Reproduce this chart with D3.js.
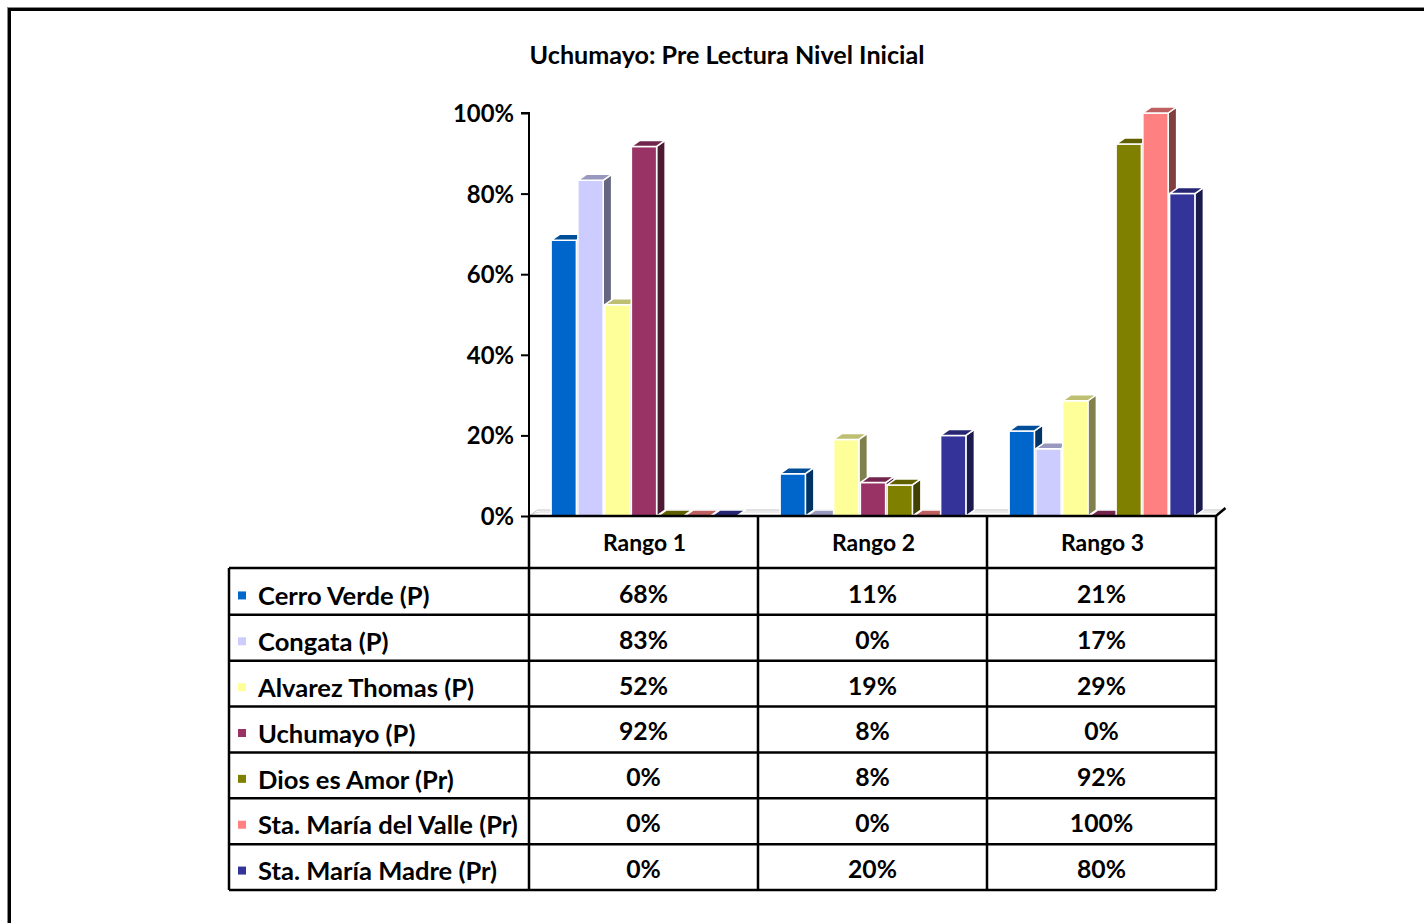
<!DOCTYPE html>
<html>
<head>
<meta charset="utf-8">
<script src="https://cdn.jsdelivr.net/npm/d3@7/dist/d3.min.js"></script>
<style>
  html, body { margin: 0; padding: 0; background: #fff; overflow: hidden; }
  svg { display: block; }
</style>
</head>
<body>
<svg id="chart" width="1424" height="923"></svg>
<script>
// ---------------- DATA ----------------
const chartTitle = "Uchumayo: Pre Lectura Nivel Inicial";
const categories = ["Rango 1", "Rango 2", "Rango 3"];
const seriesNames = [
  "Cerro Verde (P)",
  "Congata (P)",
  "Alvarez Thomas (P)",
  "Uchumayo (P)",
  "Dios es Amor (Pr)",
  "Sta. María del Valle (Pr)",
  "Sta. María Madre (Pr)"
];
const seriesColors = ["#0066CC", "#CCCCFF", "#FFFF99", "#993366", "#808000", "#FF8080", "#333399"];
const cerroVerde   = [0.684, 0.105, 0.211];
const congata      = [0.833, 0.000, 0.167];
const alvarez      = [0.524, 0.190, 0.286];
const uchumayo     = [0.917, 0.083, 0.000];
const diosEsAmor   = [0.000, 0.077, 0.923];
const staMariaValle = [0.000, 0.000, 1.000];
const staMariaMadre = [0.000, 0.200, 0.800];
const seriesValues = [cerroVerde, congata, alvarez, uchumayo, diosEsAmor, staMariaValle, staMariaMadre];
const yTicks = [0, 0.2, 0.4, 0.6, 0.8, 1.0];

// ---------------- LAYOUT ----------------
const svg = d3.select("#chart");
const FONT = "Lato, 'Open Sans', 'DejaVu Sans', sans-serif";
const plotLeft = 529, plotRight = 1216, plotBottom = 516, plotTop = 113;
const depthX = 8.5, depthY = 6;
const tableTop = 568, tableBottom = 890, tableLeft = 229;

const fmt = d3.format(".0%");

function sizeFor(str, target) {
  const t = svg.append("text").attr("font-family", FONT).attr("font-weight", 700)
    .attr("font-size", 100).text(str);
  const w = t.node().getComputedTextLength();
  t.remove();
  return 100 * target / w;
}
const CAP = 0.7165; // Lato cap height ratio
function baseline(center, size) { return center + CAP * size / 2; }

// frame
svg.append("rect").attr("x", 7.5).attr("y", 7.5).attr("width", 1500).attr("height", 1000)
  .attr("fill", "none").attr("stroke", "#888").attr("stroke-width", 1);
svg.append("rect").attr("x", 9.5).attr("y", 9.5).attr("width", 1500).attr("height", 1000)
  .attr("fill", "none").attr("stroke", "#000").attr("stroke-width", 3);

// title
const titleSize = sizeFor(chartTitle, 395);
svg.append("text").attr("x", 727).attr("y", baseline(55, titleSize))
  .attr("text-anchor", "middle").attr("font-family", FONT).attr("font-weight", 700)
  .attr("font-size", titleSize).attr("fill", "#000").text(chartTitle);

// scales
const x = d3.scaleBand().domain(categories).range([plotLeft, plotRight]).paddingInner(0).paddingOuter(0);
const xs = d3.scaleBand().domain(seriesNames).range([0, x.bandwidth()]).paddingInner(0).paddingOuter(0.78).align(0.53);
const y = d3.scaleLinear().domain([0, 1]).range([plotBottom, plotTop]);
const rowScale = d3.scaleBand().domain(seriesNames).range([tableTop + 1, tableBottom]);

// floor (3D base)
const floor = svg.append("g");
floor.append("path")
  .attr("d", `M${plotLeft},${plotBottom} L${plotLeft + depthX},${plotBottom - depthY} L${plotRight + depthX},${plotBottom - depthY} L${plotRight},${plotBottom}`)
  .attr("fill", "#fff").attr("stroke", "#c4c4c4").attr("stroke-width", 1);
floor.append("path")
  .attr("d", `M${plotLeft + 3},${plotBottom - 2} L${plotLeft + depthX + 2},${plotBottom - depthY + 2} L${plotRight + depthX - 2},${plotBottom - depthY + 2}`)
  .attr("fill", "none").attr("stroke", "#d8d8d8").attr("stroke-width", 1);

// bars
const barsG = svg.append("g");
categories.forEach((cat, ci) => {
  seriesNames.forEach((s, si) => {
    const v = seriesValues[si][ci];
    const c = d3.rgb(seriesColors[si]);
    const side = d3.rgb(c.r * 0.5, c.g * 0.5, c.b * 0.5);
    const top = d3.rgb(c.r * 0.75, c.g * 0.75, c.b * 0.75);
    const x0 = x(cat) + xs(s);
    const w = xs.bandwidth() - 1.5;
    const yt = y(v), yb = y(0);
    const g = barsG.append("g").attr("stroke", "#fff").attr("stroke-width", 1.5).attr("stroke-linejoin", "round");
    g.append("path").attr("d",
      `M${x0 + w},${yt} L${x0 + w + depthX},${yt - depthY} L${x0 + w + depthX},${yb - depthY} L${x0 + w},${yb} Z`)
      .attr("fill", side.formatHex());
    g.append("rect").attr("x", x0).attr("y", yt).attr("width", w).attr("height", Math.max(0, yb - yt))
      .attr("fill", c.formatHex());
    g.append("path").attr("d",
      `M${x0},${yt} L${x0 + depthX},${yt - depthY} L${x0 + w + depthX},${yt - depthY} L${x0 + w},${yt} Z`)
      .attr("fill", top.formatHex());
  });
});

// y axis
const tickSize = sizeFor("100%", 61);
const yAxis = svg.append("g").attr("transform", `translate(${plotLeft},0)`)
  .call(d3.axisLeft(y).tickValues(yTicks).tickFormat(fmt).tickSize(8).tickPadding(7));
yAxis.select(".domain").attr("stroke", "#000").attr("stroke-width", 2)
  .attr("d", `M-8,${y(1)}H0V${y(0)}`);
yAxis.selectAll(".tick line").attr("stroke", "#000").attr("stroke-width", 2);
yAxis.selectAll(".tick text").attr("font-family", FONT).attr("font-weight", 700)
  .attr("font-size", tickSize).attr("fill", "#000").attr("dy", null)
  .attr("y", CAP * tickSize / 2);

// x axis line + diagonal corner
svg.append("path")
  .attr("d", `M${plotLeft},${plotBottom} H${plotRight} L${plotRight + depthX + 1},${plotBottom - depthY - 2}`)
  .attr("fill", "none").attr("stroke", "#000").attr("stroke-width", 2.5);

// data table
const table = svg.append("g");
const lineAttrs = sel => sel.attr("stroke", "#000").attr("stroke-width", 2.5);
[plotLeft, ...categories.map(c => x(c) + x.bandwidth())].forEach(vx => {
  table.append("line").attr("x1", vx).attr("x2", vx).attr("y1", plotBottom).attr("y2", tableBottom).call(lineAttrs);
});
table.append("line").attr("x1", tableLeft).attr("x2", tableLeft).attr("y1", tableTop).attr("y2", tableBottom).call(lineAttrs);
table.append("line").attr("x1", tableLeft).attr("x2", plotRight).attr("y1", tableTop).attr("y2", tableTop).call(lineAttrs);
seriesNames.forEach(s => {
  const yy = rowScale(s) + rowScale.bandwidth();
  table.append("line").attr("x1", tableLeft).attr("x2", plotRight).attr("y1", yy).attr("y2", yy).call(lineAttrs);
});

// header labels
const headSize = sizeFor("Rango 1", 83);
categories.forEach(cat => {
  table.append("text").attr("x", x(cat) + x.bandwidth() / 2 + 1).attr("y", baseline(542.5, headSize))
    .attr("text-anchor", "middle").attr("font-family", FONT).attr("font-weight", 700)
    .attr("font-size", headSize).attr("fill", "#000").text(cat);
});

// row labels + legend keys + values
const rowSize = sizeFor("Sta. María del Valle (Pr)", 260);
const valSize = sizeFor("68%", 49);
seriesNames.forEach((s, si) => {
  const cy = rowScale(s) + rowScale.bandwidth() / 2;
  table.append("rect").attr("x", 238).attr("y", cy + 3.5 - 4).attr("width", 8).attr("height", 8)
    .attr("fill", seriesColors[si]);
  table.append("text").attr("x", 258).attr("y", baseline(cy + 4, rowSize))
    .attr("font-family", FONT).attr("font-weight", 700).attr("font-size", rowSize)
    .attr("fill", "#000").text(s);
  categories.forEach((cat, ci) => {
    table.append("text").attr("x", x(cat) + x.bandwidth() / 2).attr("y", baseline(cy + 2, valSize))
      .attr("text-anchor", "middle").attr("font-family", FONT).attr("font-weight", 700)
      .attr("font-size", valSize).attr("fill", "#000").text(fmt(seriesValues[si][ci]));
  });
});
</script>
</body>
</html>
